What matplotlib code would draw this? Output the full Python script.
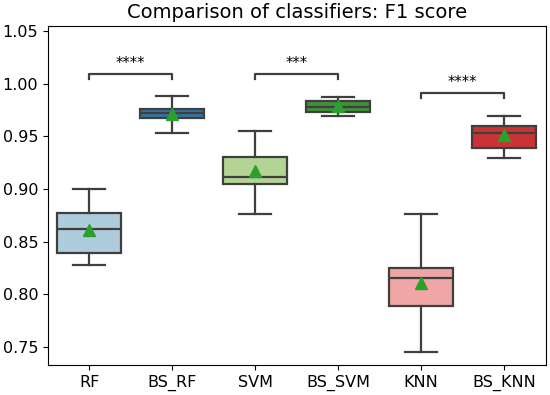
import colorsys
import numpy as np
import matplotlib
matplotlib.use('Agg')
import matplotlib.pyplot as plt
import matplotlib.colors as mcolors

labels = ['RF', 'BS_RF', 'SVM', 'BS_SVM', 'KNN', 'BS_KNN']
whislo = [0.828, 0.953, 0.876, 0.969, 0.745, 0.929]
q1 = [0.839, 0.967, 0.905, 0.973, 0.789, 0.939]
med = [0.862, 0.972, 0.911, 0.978, 0.816, 0.953]
q3 = [0.877, 0.976, 0.930, 0.984, 0.825, 0.960]
whishi = [0.900, 0.988, 0.955, 0.987, 0.876, 0.969]
means = [0.861, 0.971, 0.917, 0.979, 0.811, 0.951]

pairs = [(0, 1), (2, 3), (4, 5)]
pair_y = [1.009, 1.009, 0.991]
pair_text = ['****', '***', '****']

base = ['#a6cee3', '#1f78b4', '#b2df8a', '#33a02c', '#fb9a99', '#e31a1c']


def desat(c, prop=0.75):
    r, g, b = mcolors.to_rgb(c)
    h, l, s = colorsys.rgb_to_hls(r, g, b)
    return colorsys.hls_to_rgb(h, l, s * prop)


colors = [desat(c) for c in base]
line_col = '#3f3f3f'

stats = []
for i in range(len(labels)):
    stats.append(dict(label=labels[i], whislo=whislo[i], q1=q1[i], med=med[i],
                      q3=q3[i], whishi=whishi[i], mean=means[i], fliers=[]))

fig = plt.figure(figsize=(5.5, 3.95), dpi=100)
ax = fig.add_axes([0.087, 0.076, 0.905, 0.858])

lw = 1.6
bp = ax.bxp(stats, positions=np.arange(len(labels)), widths=0.77, patch_artist=True,
            showmeans=True, showfliers=False,
            boxprops=dict(edgecolor=line_col, linewidth=lw),
            medianprops=dict(color=line_col, linewidth=lw),
            whiskerprops=dict(color=line_col, linewidth=lw),
            capprops=dict(color=line_col, linewidth=lw),
            meanprops=dict(marker='^', markerfacecolor='#2ca02c', markeredgecolor='#2ca02c',
                           markersize=8))
for patch, c in zip(bp['boxes'], colors):
    patch.set_facecolor(c)

for (a, b), y, t in zip(pairs, pair_y, pair_text):
    h = 0.005
    ax.plot([a, a, b, b], [y - h, y, y, y - h], color=line_col, linewidth=lw)
    ax.text((a + b) / 2, y + 0.003, t, ha='center', va='bottom', fontsize=10.5)

ax.set_xlim(-0.5, 5.5)
ax.set_ylim(0.733, 1.0547)
ax.set_yticks([0.75, 0.80, 0.85, 0.90, 0.95, 1.00, 1.05])
ax.set_xticks(np.arange(len(labels)))
ax.set_xticklabels(labels)
ax.tick_params(labelsize=11.5)
ax.set_title('Comparison of classifiers: F1 score', fontsize=14)

fig.savefig('out.png', dpi=100)
